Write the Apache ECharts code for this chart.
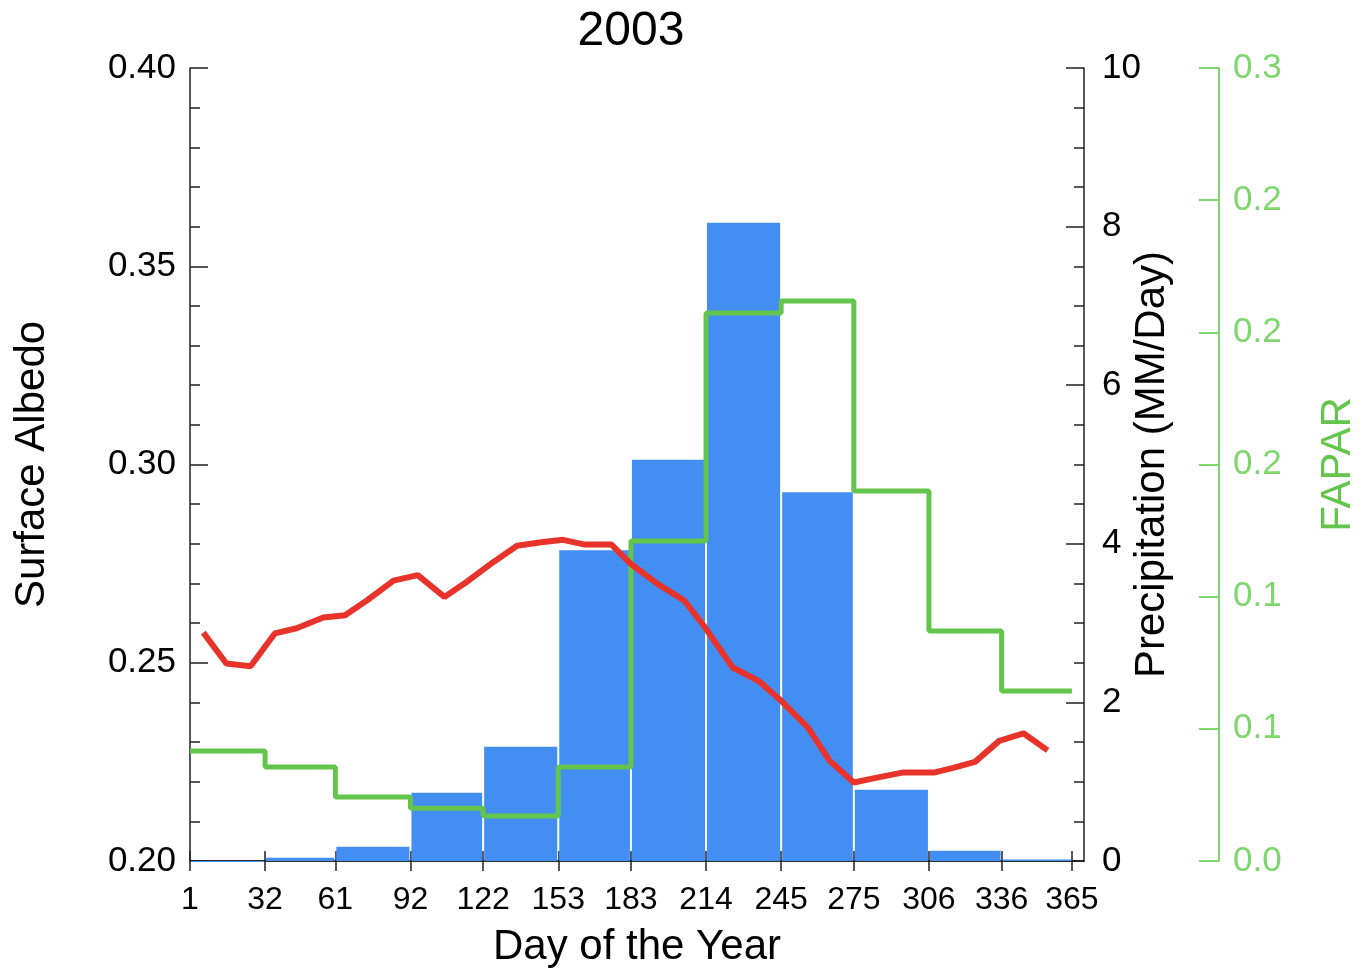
<!DOCTYPE html>
<html>
<head>
<meta charset="utf-8">
<script src="https://cdn.jsdelivr.net/npm/echarts@6/dist/echarts.min.js"></script>
<style>html,body{margin:0;padding:0;background:#fff}#c{width:1371px;height:974px}</style>
</head>
<body>
<div id="c"></div>
<script>
// ---- data ----
const title = '2003';
const monthStart = [1, 32, 61, 92, 122, 153, 183, 214, 245, 275, 306, 336];
const monthEnd = [32, 61, 92, 122, 153, 183, 214, 245, 275, 306, 336, 365];
const dayTicks = [1, 32, 61, 92, 122, 153, 183, 214, 245, 275, 306, 336, 365];
const precip = [0, 0.04, 0.18, 0.86, 1.44, 3.92, 5.06, 8.05, 4.65, 0.90, 0.13, 0.02];
const fapar = [0.0416, 0.0356, 0.0242, 0.0200, 0.0170, 0.0356, 0.1211, 0.2073, 0.2119, 0.1400, 0.0870, 0.0643];
const albedoDay = [6.5, 16, 26, 36, 45, 56, 65, 74, 85, 95, 106, 115, 126, 136, 146, 155, 164, 175, 183, 194, 205, 213, 225, 236, 245, 256, 265, 275, 285, 295, 308, 316, 325, 335, 345, 355];
const albedo = [0.2576, 0.2498, 0.2491, 0.2574, 0.2587, 0.2614, 0.2620, 0.2657, 0.2707, 0.2721, 0.2666, 0.2703, 0.2753, 0.2795, 0.2804, 0.2810, 0.2798, 0.2798, 0.2749, 0.2699, 0.2657, 0.2594, 0.2488, 0.2453, 0.2404, 0.2337, 0.2253, 0.2198, 0.2211, 0.2223, 0.2223, 0.2235, 0.2250, 0.2303, 0.2322, 0.2279];
const faparTickLabels = ['0.0', '0.1', '0.1', '0.2', '0.2', '0.2', '0.3'];

// ---- chart ----
const REG = "'Liberation Sans', Arial, Helvetica, sans-serif";
const AX = '#222';
const GREEN = '#63c54b';
const GREEN_AX = '#7fd66f';

const barData = monthStart.map((s, i) => [s, monthEnd[i], precip[i]]);
const stepData = monthStart.map((s, i) => [s, fapar[i]]);
stepData.push([monthEnd[monthEnd.length - 1], fapar[fapar.length - 1]]);
const redData = albedoDay.map((d, i) => [d, albedo[i]]);

const chart = echarts.init(document.getElementById('c'), null, {renderer: 'canvas'});
chart.setOption({
  animation: false,
  backgroundColor: '#fff',
  graphic: [{
    type: 'text', x: 631, y: 32,
    style: {text: title, font: '48px ' + REG, fill: '#000', align: 'center', verticalAlign: 'middle'}
  }],
  grid: {left: 190, right: 287, top: 68, bottom: 113, containLabel: false, outerBoundsMode: 'none'},
  xAxis: [{
    type: 'value', min: 1, max: 370, position: 'bottom',
    name: 'Day of the Year', nameLocation: 'middle', nameGap: 65, nameMoveOverlap: false,
    nameTextStyle: {fontFamily: REG, fontSize: 42, color: '#000'},
    axisLine: {show: true, lineStyle: {color: AX, width: 1.5}},
    axisTick: {show: true, inside: true, length: 10, customValues: dayTicks, lineStyle: {color: AX, width: 1.5}},
    axisLabel: {show: true, customValues: dayTicks, fontFamily: REG, fontSize: 32, color: '#000', margin: 23, hideOverlap: false},
    splitLine: {show: false}
  }, {
    type: 'value', min: 1, max: 370, position: 'top',
    axisLine: {show: true, lineStyle: {color: AX, width: 1.5}},
    axisTick: {show: true, inside: true, length: 10, customValues: dayTicks, lineStyle: {color: AX, width: 1.5}},
    axisLabel: {show: false},
    splitLine: {show: false}
  }],
  yAxis: [{
    type: 'value', min: 0.2, max: 0.4, interval: 0.05, position: 'left',
    name: 'Surface Albedo', nameLocation: 'middle', nameGap: 137, nameRotate: 90, nameMoveOverlap: false,
    nameTextStyle: {fontFamily: REG, fontSize: 42, color: '#000'},
    axisLine: {show: true, lineStyle: {color: AX, width: 1.5}},
    axisTick: {show: true, inside: true, length: 18, lineStyle: {color: AX, width: 1.5}},
    minorTick: {show: true, splitNumber: 5, length: 10, lineStyle: {color: AX, width: 1.5}},
    axisLabel: {fontFamily: REG, fontSize: 35, color: '#000', margin: 14, formatter: v => v.toFixed(2)},
    splitLine: {show: false}
  }, {
    type: 'value', min: 0, max: 10, interval: 2, position: 'right',
    name: 'Precipitation (MM/Day)', nameLocation: 'middle', nameGap: 47, nameRotate: 90, nameMoveOverlap: false,
    nameTextStyle: {fontFamily: REG, fontSize: 42, color: '#000'},
    axisLine: {show: true, lineStyle: {color: AX, width: 1.5}},
    axisTick: {show: true, inside: true, length: 18, lineStyle: {color: AX, width: 1.5}},
    minorTick: {show: true, splitNumber: 4, length: 10, lineStyle: {color: AX, width: 1.5}},
    axisLabel: {fontFamily: REG, fontSize: 35, color: '#000', margin: 18},
    splitLine: {show: false}
  }, {
    type: 'value', min: 0, max: 0.3, interval: 0.05, position: 'right', offset: 135,
    name: 'FAPAR', nameLocation: 'middle', nameGap: 98, nameRotate: 90, nameMoveOverlap: false,
    nameTextStyle: {fontFamily: REG, fontSize: 42, color: GREEN},
    axisLine: {show: true, lineStyle: {color: GREEN_AX, width: 2}},
    axisTick: {show: true, inside: true, length: 20, lineStyle: {color: GREEN_AX, width: 2}},
    axisLabel: {fontFamily: REG, fontSize: 35, color: GREEN_AX, margin: 14,
      formatter: v => faparTickLabels[Math.round(v / 0.05)]},
    splitLine: {show: false}
  }],
  series: [{
    name: 'Precipitation', type: 'custom', xAxisIndex: 0, yAxisIndex: 1,
    encode: {x: [0, 1], y: 2},
    data: barData,
    renderItem: function (params, api) {
      const s = api.coord([api.value(0), api.value(2)]);
      const e = api.coord([api.value(1), 0]);
      return {
        type: 'rect',
        shape: {x: s[0] + 1, y: s[1], width: e[0] - s[0] - 2, height: Math.max(e[1] - s[1], 1)},
        style: {fill: '#428ef3'}
      };
    },
    z: 1
  }, {
    name: 'FAPAR', type: 'line', xAxisIndex: 0, yAxisIndex: 2, step: 'end',
    data: stepData, showSymbol: false, symbol: 'none',
    lineStyle: {color: GREEN, width: 5}, z: 3
  }, {
    name: 'Surface Albedo', type: 'line', xAxisIndex: 0, yAxisIndex: 0,
    data: redData, showSymbol: false, symbol: 'none',
    lineStyle: {color: '#e8332a', width: 6}, z: 4
  }]
});
</script>
</body>
</html>
